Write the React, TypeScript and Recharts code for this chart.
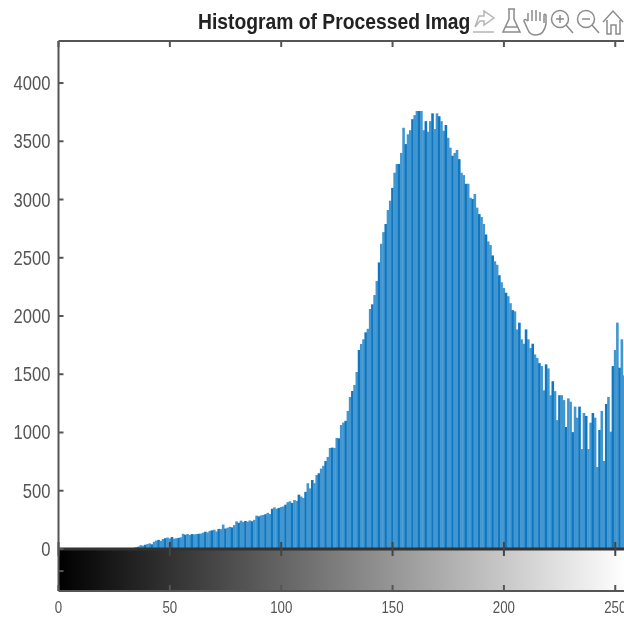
import { BarChart, Bar, XAxis, YAxis, ReferenceArea, ReferenceLine } from 'recharts'

// counts per gray level
const emptyLevels = new Array(34).fill(0)
const shadowCounts = [
  10, 15, 20, 32, 28, 36, 42, 48, 40, 62, 72, 78, 70, 85, 92, 98, 90, 102, 88, 92, 95, 100, 130, 122, 128, 120, 128,
  125, 128, 130, 132, 140, 148, 142,
]
const lowCounts = [
  155, 160, 165, 150, 172, 170, 209, 175, 182, 190, 185, 205, 237, 225, 243, 232, 240, 235, 245, 238, 250, 286, 280,
  288, 292, 298, 310, 300, 345, 357, 345, 352,
]
const riseCounts = [
  360, 365, 380, 402, 409, 395, 420, 412, 466, 450, 438, 490, 564, 520, 592, 565, 635, 650, 690, 714, 755, 790, 867,
  870, 867, 953, 950, 1064, 1085, 1100, 1185, 1305, 1356, 1408, 1519, 1708, 1760, 1800, 1860, 1890, 2060, 2100, 2180,
  2300, 2460, 2620, 2720,
]
const peakCounts = [
  2790, 2910, 2990, 3100, 3230, 3305, 3305, 3400, 3616, 3476, 3560, 3595, 3690, 3725, 3760, 3760, 3760, 3595, 3673,
  3582, 3673, 3740, 3605, 3740, 3715, 3673, 3590, 3640, 3530, 3445, 3376, 3400, 3425, 3347, 3230, 3210, 3135, 3135,
  3015, 3005, 3047, 2930, 2875,
]
const fallCounts = [
  2850, 2790, 2700, 2640, 2610, 2520, 2470, 2440, 2350, 2290, 2240, 2200, 2170, 2110, 2050, 2040, 1885, 1943, 1800,
  1762, 1885, 1800, 1725, 1762, 1670, 1640, 1595, 1570, 1362, 1585, 1550, 1320, 1440, 1355, 1106, 1320, 1320, 1278,
  1047, 1293, 1264, 1003, 1222, 1127, 1222, 858, 1167, 1142, 858, 1084, 1167, 1127, 704, 1021, 1185, 755, 1245, 1305,
  1007, 1570, 1708, 1943, 1556, 1800, 1490, 1300,
]
const counts = [...emptyLevels, ...shadowCounts, ...lowCounts, ...riseCounts, ...peakCounts, ...fallCounts]
const data = counts.map((count, level) => ({ level, count }))

const xTicks = [0, 50, 100, 150, 200, 250]
const yTicks = [0, 500, 1000, 1500, 2000, 2500, 3000, 3500, 4000]
const colorbarTick = -190
const axisColor = '#555'
const labelFont = '"Liberation Sans", sans-serif'
const squeeze = 0.83

// bars are a touch wider than one gray level so neighbours close up
function HistBar({ x, y, width, height, level }: any) {
  if (!height) return null
  return (
    <rect
      x={x + width / 2 - 1.3}
      y={y}
      width={2.6}
      height={height}
      fill={level % 3 === 0 ? '#0f76bf' : '#4096d0'}
    />
  )
}

function BottomTick({ x, y, payload }: any) {
  return (
    <g>
      <line x1={x} x2={x} y1={y} y2={y - 6} stroke={axisColor} strokeWidth={2} />
      <text
        transform={`translate(${x} ${y + 22}) scale(${squeeze} 1)`}
        textAnchor="middle"
        fontSize={16}
        fontFamily={labelFont}
        fill="#555"
      >
        {payload.value}
      </text>
    </g>
  )
}

function TopTick({ x, y }: any) {
  return <line x1={x} x2={x} y1={y} y2={y + 6} stroke={axisColor} strokeWidth={2} />
}

function LeftTick({ x, y, payload }: any) {
  return (
    <g>
      <line x1={x} x2={x + 5} y1={y} y2={y} stroke={axisColor} strokeWidth={2} />
      {payload.value >= 0 && (
        <text
          transform={`translate(${x - 8} ${y + 7}) scale(${squeeze} 1)`}
          textAnchor="end"
          fontSize={20}
          fontFamily={labelFont}
          fill="#555"
        >
          {payload.value}
        </text>
      )}
    </g>
  )
}

function RightTick({ x, y }: any) {
  return <line x1={x} x2={x - 5} y1={y} y2={y} stroke={axisColor} strokeWidth={2} />
}

function Toolbar() {
  return (
    <svg
      width={154}
      height={38}
      style={{ position: 'absolute', left: 470, top: 0, background: '#fff' }}
      fill="none"
      stroke="#8c8c8c"
      strokeWidth={1.5}
    >
      <path d="M5 27 L9 16 L14 16 L14 11 L24 18 L14 25 L14 21 L10 21 Z" stroke="#b5b5b5" />
      <path d="M3 32 H24" stroke="#b5b5b5" />
      <path d="M38 9 H45 M39 9 V19 L33 32 H50 L44 19 V9 M35 27 H48" />
      <path d="M58 21 V13 M62 21 V10 M66 21 V10 M70 21 V12 M74 23 V16 Q74 13 76 15 V24 Q74 35 66 35 Q60 35 58 30 L54 21 Q54 18 58 21" />
      <circle cx={90} cy={19} r={8.5} />
      <path d="M90 15 V23 M86 19 H94 M96 25 L103 33" />
      <circle cx={116} cy={19} r={8.5} />
      <path d="M112 19 H120 M122 25 L129 33" />
      <path d="M133 22 L143 11 L153 22 M137 20 V34 H141 V25 H146 V34 H150 V20" />
    </svg>
  )
}

export default function App() {
  return (
    <div
      style={{
        position: 'absolute',
        left: 0,
        top: 0,
        width: 624,
        height: 620,
        overflow: 'hidden',
        background: '#fff',
        filter: 'blur(0.45px)',
      }}
    >
      <BarChart
        width={640}
        height={620}
        data={data}
        margin={{ top: 40, right: 12.6, bottom: 28, left: 57.5 }}
        barCategoryGap={0}
      >
        <defs>
          <linearGradient id="grayRamp" x1="0" y1="0" x2="1" y2="0">
            <stop offset="0%" stopColor="#000" />
            <stop offset="100%" stopColor="#fff" />
          </linearGradient>
        </defs>
        <ReferenceArea
          xAxisId="bottom"
          yAxisId="left"
          x1={0}
          x2={255}
          y1={-361}
          y2={0}
          fill="url(#grayRamp)"
          fillOpacity={1}
          stroke="none"
        />
        <Bar
          xAxisId="bottom"
          yAxisId="left"
          dataKey="count"
          barSize={2}
          shape={<HistBar />}
          isAnimationActive={false}
        />
        <ReferenceLine xAxisId="bottom" yAxisId="left" y={0} stroke="#333" strokeWidth={3} />
        {xTicks.map((t) => (
          <ReferenceLine
            key={t}
            xAxisId="bottom"
            yAxisId="left"
            segment={[
              { x: t, y: -60 },
              { x: t, y: 60 },
            ]}
            stroke="#444"
            strokeWidth={2}
          />
        ))}
        <XAxis
          xAxisId="bottom"
          dataKey="level"
          type="number"
          domain={[0, 255]}
          ticks={xTicks}
          interval={0}
          height={1}
          tickSize={0}
          tickMargin={0}
          tick={<BottomTick />}
          tickLine={false}
          stroke={axisColor}
          strokeWidth={2}
        />
        <XAxis
          xAxisId="top"
          orientation="top"
          dataKey="level"
          type="number"
          domain={[0, 255]}
          ticks={xTicks}
          interval={0}
          height={1}
          tickSize={0}
          tickMargin={0}
          tick={<TopTick />}
          tickLine={false}
          stroke={axisColor}
          strokeWidth={2}
        />
        <YAxis
          yAxisId="left"
          type="number"
          domain={[-361, 4361]}
          ticks={[colorbarTick, ...yTicks]}
          interval={0}
          width={1}
          tickSize={0}
          tickMargin={0}
          tick={<LeftTick />}
          tickLine={false}
          stroke={axisColor}
          strokeWidth={2}
        />
        <YAxis
          yAxisId="right"
          orientation="right"
          type="number"
          domain={[-361, 4361]}
          ticks={[colorbarTick, ...yTicks]}
          interval={0}
          width={1}
          tickSize={0}
          tickMargin={0}
          tick={<RightTick />}
          tickLine={false}
          stroke={axisColor}
          strokeWidth={2}
        />
      </BarChart>
      <div
        style={{
          position: 'absolute',
          left: 198,
          top: 9,
          fontFamily: labelFont,
          fontWeight: 'bold',
          fontSize: 22,
          lineHeight: '26px',
          color: '#222',
          whiteSpace: 'nowrap',
          transform: 'scaleX(0.877)',
          transformOrigin: 'left top',
        }}
      >
        Histogram of Processed Image
      </div>
      <Toolbar />
    </div>
  )
}
